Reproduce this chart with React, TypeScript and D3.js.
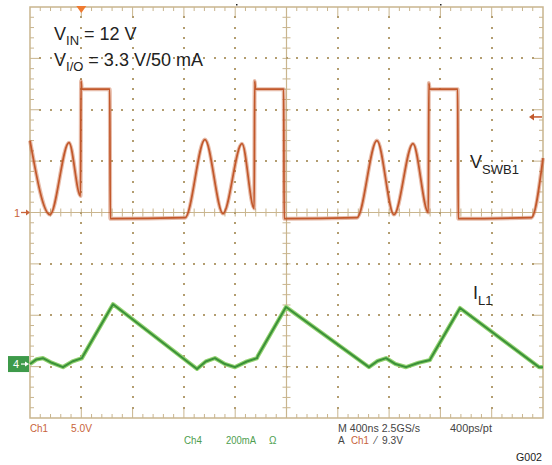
import React, { useEffect, useRef } from "react";
import * as d3 from "d3";

const W = 552;
const H = 465;
const PLOT = { LEFT: 30, RIGHT: 543, TOP: 7, BOTTOM: 418 };
const DIVS_X = 10;
const DIVS_Y = 8;

// time in ns (400 ns/div), Ch1 in V (5 V/div)
const ch1Time = [0, 156, 304, 394, 398, 404, 622, 626, 1210, 1364, 1505, 1653, 1748, 1752, 1758, 1978, 1982, 2550, 2705, 2838, 2986, 3106, 3110, 3116, 3335, 3339, 3910, 4000];
const ch1Volts = [7.0, -0.2, 6.8, 1.6, 12.8, 12.0, 12.0, -0.6, -0.5, 7.1, -0.1, 6.7, 0.4, 12.8, 12.0, 12.0, -0.6, -0.5, 7.0, -0.2, 6.7, 0.0, 12.6, 12.0, 12.0, -0.6, -0.5, 5.3];

// Ch4 inductor current in mA (200 mA/div)
const ch4Time = [0, 50, 101, 170, 257, 330, 405, 410, 647, 1302, 1370, 1442, 1520, 1598, 1690, 1770, 1775, 1996, 2643, 2710, 2776, 2850, 2932, 3030, 3119, 3124, 3353, 3969, 4000];
const ch4Amps = [0, 18, 23, 5, -12, 10, 23, 28, 233, -19, 10, 23, 0, -12, 10, 23, 30, 222, -12, 12, 23, 0, -12, 5, 16, 22, 218, -12, -12];

const GRID = "#c9b58e";
const DOT = "#b39d70";
const ORANGE = "#c2582b";
const GREEN_DARK = "#3a9139";
const GREEN_LIGHT = "#93d270";
const TXT_OR = "#c8643a";
const TXT_GR = "#4e9e4e";

export default function App() {
  const ref = useRef<SVGSVGElement>(null);

  useEffect(() => {
    const svg = d3.select(ref.current);
    svg.selectAll("*").remove();

    const x = d3.scaleLinear().domain([0, 4000]).range([PLOT.LEFT, PLOT.RIGHT]);
    const y1 = d3.scaleLinear().domain([-20, 20]).range([PLOT.BOTTOM, PLOT.TOP]);
    const y4 = d3.scaleLinear().domain([-210, 1390]).range([PLOT.BOTTOM, PLOT.TOP]);

    const dx = (PLOT.RIGHT - PLOT.LEFT) / DIVS_X;
    const dy = (PLOT.BOTTOM - PLOT.TOP) / DIVS_Y;
    const cx = PLOT.LEFT + dx * 5;
    const cy = PLOT.TOP + dy * 4;

    const grid = svg.append("g").attr("stroke", GRID).attr("fill", GRID);

    // dotted graticule
    const dots: [number, number][] = [];
    for (let i = 1; i < DIVS_X; i++) {
      if (i === 5) continue;
      for (let k = 1; k < DIVS_Y * 5; k++) dots.push([PLOT.LEFT + i * dx, PLOT.TOP + (k * dy) / 5]);
    }
    for (let j = 1; j < DIVS_Y; j++) {
      if (j === 4) continue;
      for (let k = 1; k < DIVS_X * 5; k++) dots.push([PLOT.LEFT + (k * dx) / 5, PLOT.TOP + j * dy]);
    }
    svg.append("g").selectAll("rect").data(dots).join("rect")
      .attr("x", (d) => Math.round(d[0]) - 1).attr("y", (d) => Math.round(d[1]) - 1)
      .attr("width", 2).attr("height", 2).attr("fill", DOT);

    // centre cross
    grid.append("line").attr("x1", cx).attr("x2", cx).attr("y1", PLOT.TOP).attr("y2", PLOT.BOTTOM).attr("stroke-width", 1.2);
    grid.append("line").attr("x1", PLOT.LEFT).attr("x2", PLOT.RIGHT).attr("y1", cy).attr("y2", cy).attr("stroke-width", 1.2);
    for (let k = 1; k < DIVS_X * 5; k++) {
      const tx = PLOT.LEFT + (k * dx) / 5;
      grid.append("line").attr("x1", tx).attr("x2", tx).attr("y1", cy - 4).attr("y2", cy + 4).attr("stroke-width", 1);
      const len = k % 5 === 0 ? 9 : 4;
      grid.append("line").attr("x1", tx).attr("x2", tx).attr("y1", PLOT.TOP).attr("y2", PLOT.TOP + len).attr("stroke-width", 1);
      grid.append("line").attr("x1", tx).attr("x2", tx).attr("y1", PLOT.BOTTOM).attr("y2", PLOT.BOTTOM - len).attr("stroke-width", 1);
    }
    for (let k = 1; k < DIVS_Y * 5; k++) {
      const ty = PLOT.TOP + (k * dy) / 5;
      grid.append("line").attr("x1", cx - 4).attr("x2", cx + 4).attr("y1", ty).attr("y2", ty).attr("stroke-width", 1);
      const len = k % 5 === 0 ? 9 : 4;
      grid.append("line").attr("x1", PLOT.LEFT).attr("x2", PLOT.LEFT + len).attr("y1", ty).attr("y2", ty).attr("stroke-width", 1);
      grid.append("line").attr("x1", PLOT.RIGHT).attr("x2", PLOT.RIGHT - len).attr("y1", ty).attr("y2", ty).attr("stroke-width", 1);
    }
    grid.append("rect").attr("x", PLOT.LEFT).attr("y", PLOT.TOP)
      .attr("width", PLOT.RIGHT - PLOT.LEFT).attr("height", PLOT.BOTTOM - PLOT.TOP)
      .attr("fill", "none").attr("stroke-width", 1.5);

    // traces
    const ch1 = ch1Time.map((t, i) => [t, ch1Volts[i]] as [number, number]);
    const ch4 = ch4Time.map((t, i) => [t, ch4Amps[i]] as [number, number]);
    const line1 = d3.line<[number, number]>().x((d) => x(d[0])).y((d) => y1(d[1])).curve(d3.curveMonotoneX);
    const line4 = d3.line<[number, number]>().x((d) => x(d[0])).y((d) => y4(d[1]));

    svg.append("path").attr("d", line1(ch1)).attr("fill", "none").attr("stroke", ORANGE)
      .attr("stroke-width", 4).attr("stroke-opacity", 0.4).attr("stroke-linejoin", "round");
    svg.append("path").attr("d", line1(ch1)).attr("fill", "none").attr("stroke", ORANGE)
      .attr("stroke-width", 1.7).attr("stroke-linejoin", "round");

    svg.append("path").attr("d", line4(ch4)).attr("fill", "none").attr("stroke", GREEN_LIGHT)
      .attr("stroke-width", 4.2).attr("stroke-linejoin", "round");
    svg.append("path").attr("d", line4(ch4)).attr("fill", "none").attr("stroke", GREEN_DARK)
      .attr("stroke-width", 2).attr("stroke-linejoin", "round");

    // trigger position marker
    const trigX = x(400);
    svg.append("path").attr("d", `M${trigX - 5},${PLOT.TOP - 1}L${trigX + 5},${PLOT.TOP - 1}L${trigX},${PLOT.TOP + 6}Z`).attr("fill", "#f07a30");
    svg.append("rect").attr("x", 236).attr("y", 4).attr("width", 1.5).attr("height", 1.5).attr("fill", "#222");
    svg.append("rect").attr("x", 440).attr("y", 4).attr("width", 1.5).attr("height", 1.5).attr("fill", "#222");

    // trigger level arrow (right)
    const tl = y1(9.3);
    svg.append("line").attr("x1", 533).attr("x2", 542).attr("y1", tl).attr("y2", tl).attr("stroke", ORANGE).attr("stroke-width", 1.5);
    svg.append("path").attr("d", `M529,${tl}L534,${tl - 3.5}L534,${tl + 3.5}Z`).attr("fill", ORANGE);

    // channel ground markers
    const g1 = y1(0);
    svg.append("text").attr("x", 14).attr("y", g1 + 4).attr("font-size", 11).attr("fill", TXT_OR)
      .attr("font-family", "Liberation Sans, Arial, sans-serif").text("1");
    svg.append("line").attr("x1", 21).attr("x2", 27).attr("y1", g1).attr("y2", g1).attr("stroke", TXT_OR).attr("stroke-width", 1.3);
    svg.append("path").attr("d", `M30,${g1}L26,${g1 - 3}L26,${g1 + 3}Z`).attr("fill", TXT_OR);

    const g4 = y4(0);
    svg.append("rect").attr("x", 8).attr("y", g4 - 8).attr("width", 21).attr("height", 16).attr("fill", "#3e9a4a");
    svg.append("text").attr("x", 13).attr("y", g4 + 4).attr("font-size", 11).attr("fill", "#fff")
      .attr("font-family", "Liberation Sans, Arial, sans-serif").text("4");
    svg.append("line").attr("x1", 21).attr("x2", 26).attr("y1", g4).attr("y2", g4).attr("stroke", "#fff").attr("stroke-width", 1.2);
    svg.append("path").attr("d", `M29,${g4}L25,${g4 - 2.5}L25,${g4 + 2.5}Z`).attr("fill", "#fff");

    // annotations
    const ann = svg.append("g").attr("font-family", "Liberation Sans, Arial, sans-serif").attr("fill", "#222");
    const t1 = ann.append("text").attr("x", 54).attr("y", 40).attr("font-size", 18);
    t1.append("tspan").text("V");
    t1.append("tspan").attr("font-size", 13).attr("dy", 5).text("IN");
    t1.append("tspan").attr("dy", -5).text(" = 12 V");
    const t2 = ann.append("text").attr("x", 54).attr("y", 66).attr("font-size", 18);
    t2.append("tspan").text("V");
    t2.append("tspan").attr("font-size", 13).attr("dy", 5).text("I/O");
    t2.append("tspan").attr("dy", -5).text(" = 3.3 V/50 mA");
    const t3 = ann.append("text").attr("x", 470).attr("y", 168).attr("font-size", 18);
    t3.append("tspan").text("V");
    t3.append("tspan").attr("font-size", 13).attr("dy", 6).text("SWB1");
    const t4 = ann.append("text").attr("x", 473).attr("y", 299).attr("font-size", 18);
    t4.append("tspan").text("I");
    t4.append("tspan").attr("font-size", 13).attr("dy", 6).text("L1");

    // scope readout
    const ro = svg.append("g").attr("font-family", "Liberation Sans, Arial, sans-serif").attr("font-size", 10);
    const put = (tx: number, ty: number, s: string, c: string, len?: number) => {
      const t = ro.append("text").attr("x", tx).attr("y", ty).attr("fill", c).text(s);
      if (len) t.attr("textLength", len).attr("lengthAdjust", "spacingAndGlyphs");
      return t;
    };
    put(30, 432, "Ch1", TXT_OR, 18);
    put(71, 432, "5.0V", TXT_OR, 21);
    put(184, 444, "Ch4", TXT_GR, 18);
    put(226, 444, "200mA", TXT_GR, 30);
    put(269, 444, "Ω", TXT_GR);
    put(338, 432, "M 400ns 2.5GS/s", "#444", 82);
    put(450, 432, "400ps/pt", "#444", 42);
    put(338, 444, "A", "#444");
    put(351, 444, "Ch1", TXT_OR, 18);
    put(375, 444, "⁄", "#444");
    put(382, 444, "9.3V", "#444", 21);
    put(516, 461, "G002", "#222", 26);
  }, []);

  return (
    <svg ref={ref} width={W} height={H} style={{ position: "absolute", left: 0, top: 0, background: "#fff" }} />
  );
}
